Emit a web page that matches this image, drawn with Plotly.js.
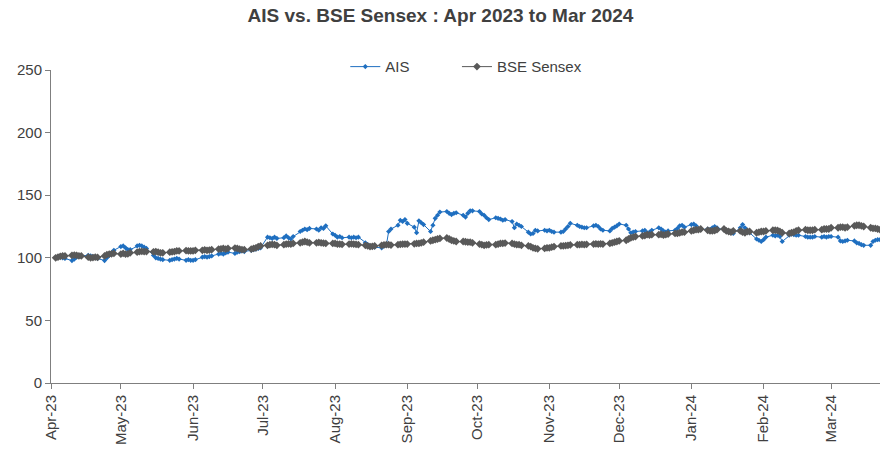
<!DOCTYPE html>
<html>
<head>
<meta charset="utf-8">
<script src="https://cdn.plot.ly/plotly-3.0.1.min.js"></script>
<style>
  html, body { margin: 0; padding: 0; background: #fff; }
  #chart { width: 881px; height: 452px; }
</style>
</head>
<body>
<div id="chart"></div>
<script>
// Month starts (trading days are the weekdays of each month)
const months = ['2023-04','2023-05','2023-06','2023-07','2023-08','2023-09',
                '2023-10','2023-11','2023-12','2024-01','2024-02','2024-03'];
const lastDay = '2024-03-22';

// AIS (rebased to 100), one value per weekday of each month
const aisApr = [100, 100.5, 101, 100, 99.5, 97.8, 99, 100.5, 101.5, 101.5, 102, 101.5, 101, 100.5, 99.5, 97.8, 100, 102, 104, 106];
const aisMay = [109, 109.5, 108, 106.5, 106.5, 109.5, 110, 109.5, 108.5, 107.5, 102, 100, 99.5, 99, 98.5, 98, 98.5, 99, 99.5, 99, 98, 98.5, 98];
const aisJun = [98, 98.5, 100.5, 101, 100.5, 101, 101.5, 103, 103.5, 103, 104, 104.5, 103.5, 104.5, 105, 105.5, 105, 106, 106.5, 107, 107.5, 108];
const aisJul = [116.5, 116, 115.5, 116.5, 115.5, 116, 117.5, 116, 115, 117, 121, 122, 123, 122.5, 123.5, 123, 122, 124, 123.5, 125.5, 119];
const aisAug = [118, 116.5, 117, 116, 116.5, 116, 116.5, 116, 116.5, 112, 110.5, 109.5, 108.5, 108.5, 108, 109.5, 110, 121, 123, 126, 130, 129, 130.5];
const aisSep = [127.5, 124.5, 120, 129.5, 128, 126.5, 121, 126, 131.5, 134, 136.5, 137, 135.5, 134.5, 135.5, 136, 134, 132.5, 135.5, 137.5, 137.5];
const aisOct = [137, 135, 134, 132, 130.5, 132, 131.5, 131, 130, 130.5, 129, 124, 127, 126, 125, 120.5, 119, 119.5, 122, 121.5, 122, 121.5];
const aisNov = [122, 121, 120.5, 120.5, 121, 123, 125, 127.5, 126, 125, 124.5, 124, 124, 125.5, 126, 125, 123, 122, 121.5, 123.5, 124.5, 125.5];
const aisDec = [127, 126, 123, 120, 120.5, 121, 121.5, 122, 120, 120.5, 122, 124, 123, 121.5, 120.5, 121.5, 122, 123.5, 125.5, 126, 124.5];
const aisJan = [126.5, 127, 125.5, 123, 122.5, 123, 122.5, 124, 125, 124, 122.5, 121.5, 121, 120, 119.5, 124, 126.5, 124, 122, 120, 115, 114, 113];
const aisFeb = [114.5, 116.5, 118, 117.5, 118, 117, 113, 118, 119, 118.5, 118, 118, 117, 116.5, 116.5, 116.5, 117, 116.5, 117, 116.5, 117];
const aisMar = [117, 116.5, 113.5, 113, 113.5, 114, 113.5, 112, 111.5, 110.5, 110, 110, 113, 114, 114.5, 114.5];

// BSE Sensex (rebased to 100)
const bseApr = [100, 100.5, 101.2, 101.5, 101.5, 102, 102.2, 102, 101.5, 101.5, 100.5, 100, 100.2, 100.5, 100.3, 101.5, 102.5, 103, 103.2, 103.5];
const bseMay = [103, 103.5, 103, 103.2, 104, 104.5, 105, 105.2, 105, 105, 104.8, 105, 104.5, 104, 104, 104.5, 104.8, 105, 105.5, 105.5, 105.8, 105.5, 105.5];
const bseJun = [105.5, 106, 106, 106.3, 106, 106.2, 106.5, 107, 107.2, 107.5, 107, 107.5, 107.8, 107.5, 107, 106.5, 106.5, 107, 107.5, 108, 109, 109.5];
const bseJul = [110, 110.5, 110.8, 110.5, 110, 110.5, 111, 111.2, 111, 111.5, 112, 112.5, 113, 112.5, 112, 112, 112.3, 112, 111.8, 111.5, 111.5];
const bseAug = [111.5, 111, 111, 110.8, 111, 111.2, 111, 110.8, 110.5, 110, 109.5, 109, 109.2, 109.5, 110, 110.3, 110.5, 110.5, 110.2, 110.5, 110.8, 111, 111];
const bseSep = [111, 111.2, 111.5, 111.5, 112, 112.5, 113.5, 114, 114.5, 115, 115.5, 115.8, 115, 114, 113.5, 113, 113, 112.8, 112.5, 112.5, 112];
const bseOct = [111, 110.5, 110, 110.3, 110.5, 110.5, 111, 111.5, 111.5, 111.8, 111.5, 111, 110.5, 110.5, 110, 109.5, 109, 108, 107.5, 107.2, 107.5, 108];
const bseNov = [108, 108.5, 109, 109.5, 109.5, 109.8, 110, 110.3, 110.5, 110.5, 110.8, 110.5, 110.8, 111, 111.2, 111, 111.2, 111, 111.5, 112, 112.5, 113];
const bseDec = [113.5, 114, 115, 116, 116.5, 117, 117.5, 117.8, 118.5, 118.2, 118.5, 118.5, 118.8, 118.2, 118.5, 119, 119.5, 119.5, 120, 120.5, 120.5];
const bseJan = [121.5, 122, 122.5, 122.5, 123, 122, 121.5, 121.5, 121.8, 122.5, 123, 121.5, 121, 120.5, 121.5, 121.5, 120.5, 120, 121, 121, 120, 120.5, 121];
const bseFeb = [121, 121.5, 122, 122, 121.8, 121, 120, 119.5, 120, 120.5, 121.5, 122, 122.5, 122, 122, 122, 122.5, 122.5, 123, 123, 123];
const bseMar = [124, 124, 124.5, 124.5, 124, 124.5, 125.5, 126, 126, 125.5, 125, 124, 123.5, 123.5, 123, 122.5];

const yTicks = [0, 50, 100, 150, 200, 250];

// Build trading-day dates (weekdays) per month
function weekdaysOf(ym, limit) {
  const [y, m] = ym.split('-').map(Number);
  const out = [];
  const d = new Date(Date.UTC(y, m - 1, 1));
  while (d.getUTCMonth() === m - 1) {
    const iso = d.toISOString().slice(0, 10);
    if (limit && iso > limit) break;
    const wd = d.getUTCDay();
    if (wd !== 0 && wd !== 6) out.push(iso);
    d.setUTCDate(d.getUTCDate() + 1);
  }
  return out;
}
const aisByMonth = [aisApr, aisMay, aisJun, aisJul, aisAug, aisSep, aisOct, aisNov, aisDec, aisJan, aisFeb, aisMar];
const bseByMonth = [bseApr, bseMay, bseJun, bseJul, bseAug, bseSep, bseOct, bseNov, bseDec, bseJan, bseFeb, bseMar];
let dates = [], ais = [], bse = [];
months.forEach((ym, i) => {
  const ds = weekdaysOf(ym, lastDay);
  const n = Math.min(ds.length, aisByMonth[i].length, bseByMonth[i].length);
  dates = dates.concat(ds.slice(0, n));
  ais = ais.concat(aisByMonth[i].slice(0, n));
  bse = bse.concat(bseByMonth[i].slice(0, n));
});

const font = 'Liberation Sans, Arial, sans-serif';
const traces = [
  {
    x: dates, y: ais, name: 'AIS', type: 'scatter', mode: 'lines+markers',
    line: { color: '#1F6FC0', width: 1 },
    marker: { symbol: 'diamond', size: 4, color: '#1F6FC0' },
    legend: 'legend'
  },
  {
    x: dates, y: bse, name: 'BSE Sensex', type: 'scatter', mode: 'lines+markers',
    line: { color: '#595959', width: 1 },
    marker: { symbol: 'diamond', size: 6, color: '#595959' },
    legend: 'legend2'
  }
];

const legendBase = {
  orientation: 'h', xanchor: 'left', y: 1.01, yanchor: 'middle',
  font: { family: font, size: 15, color: '#404040' },
  bgcolor: 'rgba(0,0,0,0)', itemwidth: 30
};

const layout = {
  width: 881, height: 452,
  margin: { l: 51, r: 1, t: 70, b: 69 },
  paper_bgcolor: '#ffffff', plot_bgcolor: '#ffffff',
  font: { family: font, size: 15, color: '#404040' },
  title: {
    text: '<b>AIS vs. BSE Sensex : Apr 2023 to Mar 2024</b>',
    font: { family: font, size: 19, color: '#404040' },
    x: 0.5, xanchor: 'center', y: 0.965, yanchor: 'middle'
  },
  showlegend: true,
  legend: Object.assign({}, legendBase, { x: 0.355 }),
  legend2: Object.assign({}, legendBase, { x: 0.4897 }),
  xaxis: {
    type: 'date',
    range: ['2023-04-01', lastDay],
    tickmode: 'linear', tick0: '2023-04-01', dtick: 'M1',
    tickformat: '%b-%y', tickangle: -90,
    ticks: 'outside', ticklen: 5, tickcolor: '#7f7f7f',
    showline: true, linecolor: '#7f7f7f', linewidth: 1,
    showgrid: false, zeroline: false,
    tickfont: { family: font, size: 15, color: '#404040' }
  },
  yaxis: {
    range: [0, 250],
    tickmode: 'array', tickvals: yTicks, ticktext: yTicks.map(String),
    ticks: 'outside', ticklen: 5, tickcolor: '#7f7f7f',
    showline: true, linecolor: '#7f7f7f', linewidth: 1,
    showgrid: false, zeroline: false,
    tickfont: { family: font, size: 15, color: '#404040' }
  }
};

Plotly.newPlot('chart', traces, layout, { displayModeBar: false, staticPlot: true });
</script>
</body>
</html>
